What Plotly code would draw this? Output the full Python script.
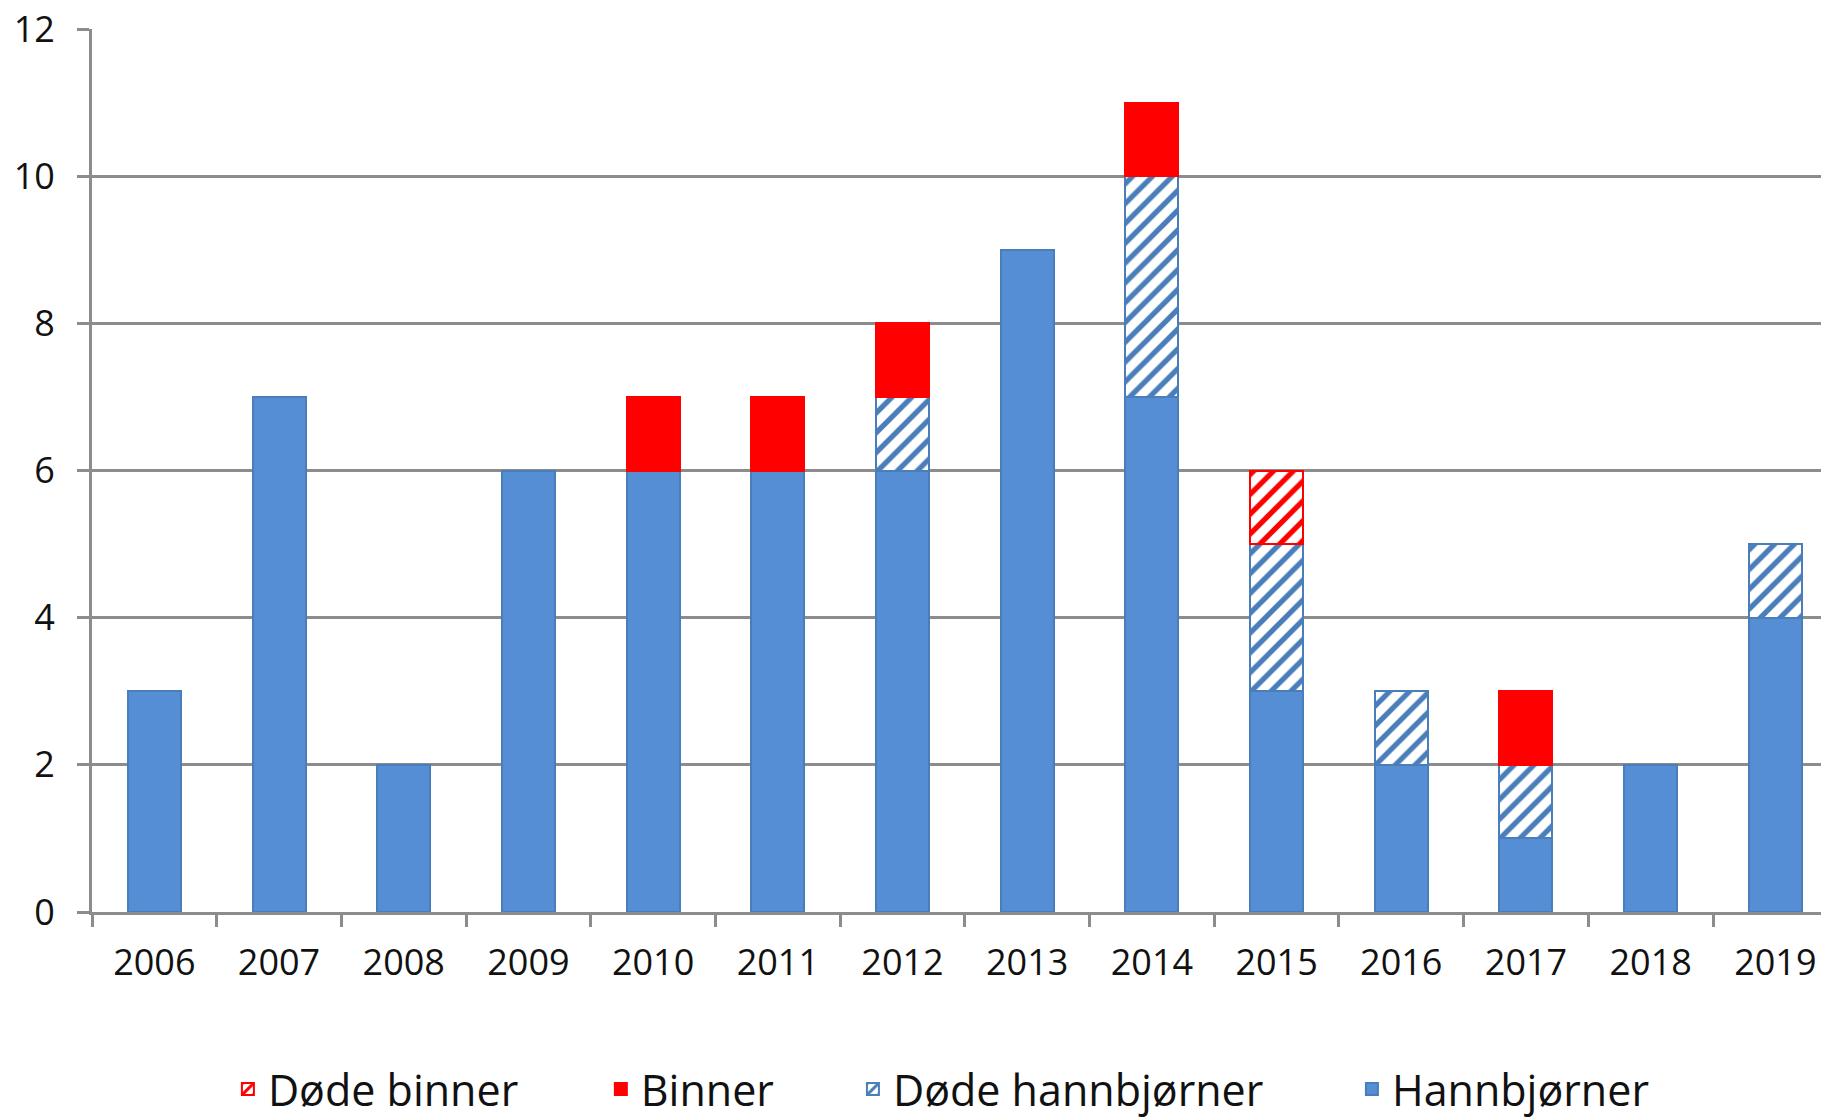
import plotly.graph_objects as go

years = ["2006", "2007", "2008", "2009", "2010", "2011", "2012",
         "2013", "2014", "2015", "2016", "2017", "2018", "2019"]
hannbjorner = [3, 7, 2, 6, 6, 6, 6, 9, 7, 3, 2, 1, 2, 4]
dode_hannbjorner = [0, 0, 0, 0, 0, 0, 1, 0, 3, 2, 1, 1, 0, 1]
binner = [0, 0, 0, 0, 1, 1, 1, 0, 1, 0, 0, 1, 0, 0]
dode_binner = [0, 0, 0, 0, 0, 0, 0, 0, 0, 1, 0, 0, 0, 0]
y_ticks = [0, 2, 4, 6, 8, 10, 12]

BLUE = "#558ED5"
BLUE_EDGE = "#4A7EBB"
RED = "#FF0000"
FONT = "Open Sans"


def nz(values):
    # zero-height segments are not drawn (avoid a border sliver)
    return [v if v else None for v in values]


fig = go.Figure()
fig.add_trace(go.Bar(
    name="Hannbjørner", x=years, y=nz(hannbjorner), legend="legend4",
    marker=dict(color=BLUE, line=dict(color=BLUE_EDGE, width=2)),
))
fig.add_trace(go.Bar(
    name="Døde hannbjørner", x=years, y=nz(dode_hannbjorner), legend="legend3",
    marker=dict(color="white", line=dict(color=BLUE_EDGE, width=2),
                pattern=dict(shape="/", fgcolor=BLUE_EDGE, bgcolor="white",
                             size=14, solidity=0.38, fillmode="replace")),
))
fig.add_trace(go.Bar(
    name="Binner", x=years, y=nz(binner), legend="legend2",
    marker=dict(color=RED, line=dict(color=RED, width=2)),
))
fig.add_trace(go.Bar(
    name="Døde binner", x=years, y=nz(dode_binner), legend="legend",
    marker=dict(color="white", line=dict(color=RED, width=2),
                pattern=dict(shape="/", fgcolor=RED, bgcolor="white",
                             size=14, solidity=0.38, fillmode="replace")),
))

legend_common = dict(orientation="h", xanchor="left", y=-0.2005, yanchor="middle",
                     font=dict(family=FONT, size=43, color="#111111"),
                     bgcolor="rgba(0,0,0,0)")

fig.update_layout(
    width=1821, height=1120,
    barmode="stack", bargap=0.575,
    plot_bgcolor="white", paper_bgcolor="white",
    margin=dict(l=92, r=0, t=29, b=208, autoexpand=False),
    font=dict(family=FONT, size=36, color="#111111"),
    showlegend=True,
    legend=dict(x=0.0786, **legend_common),
    legend2=dict(x=0.2943, **legend_common),
    legend3=dict(x=0.4401, **legend_common),
    legend4=dict(x=0.7287, **legend_common),
)
fig.update_xaxes(
    type="category", range=[-0.5, 13.366], automargin=False,
    showline=True, linecolor="#8C8C8C", linewidth=3,
    ticks="outside", tickson="boundaries", ticklen=12, tickwidth=3,
    tickcolor="#8C8C8C", showgrid=False,
    tickfont=dict(family=FONT, size=36, color="#111111"),
    ticklabelstandoff=17,
)
fig.update_yaxes(
    range=[0, 12], tickvals=y_ticks, automargin=False,
    showline=True, linecolor="#8C8C8C", linewidth=3,
    ticks="outside", ticklen=12, tickwidth=3, tickcolor="#8C8C8C",
    showgrid=True, gridcolor="#8C8C8C", gridwidth=3,
    zeroline=False,
    tickfont=dict(family=FONT, size=36, color="#111111"),
    ticklabelstandoff=15,
)

fig.write_html(
    "out.html",
    config={"displayModeBar": False},
    post_script="document.body.style.margin='0';document.body.style.overflow='hidden';",
)
